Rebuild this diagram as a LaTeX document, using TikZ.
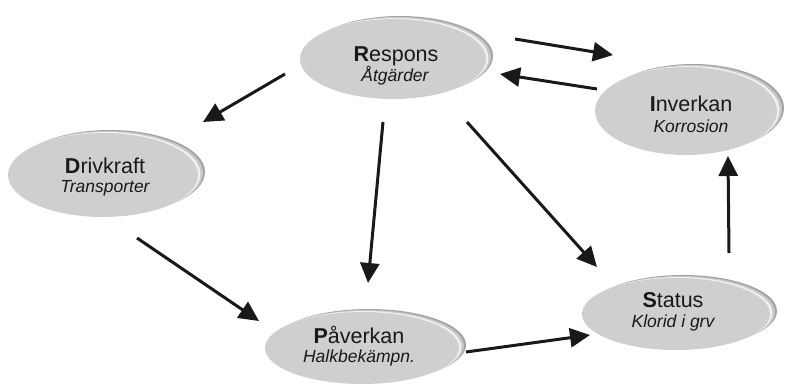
\documentclass[tikz,border=0pt]{standalone}
\usepackage{fontspec}
\setmainfont{Liberation Sans}
\usetikzlibrary{arrows.meta,shapes.geometric}
\begin{document}
\begin{tikzpicture}[x=1pt,y=-1pt,
  front/.style={ellipse,fill=black!19,inner sep=0pt},
  rimA/.style={ellipse,fill=black!36,inner sep=0pt},
  rimB/.style={ellipse,fill=black!22,inner sep=0pt},
  rimC/.style={ellipse,fill=black!6,inner sep=0pt},
  ttl/.style={anchor=base,font=\fontsize{21.5}{21.5}\selectfont,text=black!90},
  sub/.style={anchor=base,font=\fontsize{17.5}{17.5}\selectfont\itshape,text=black!90},
  arr/.style={line width=3pt,draw=black!90,-{Triangle[length=20pt,width=19pt]}}
]
\useasboundingbox (0,0) rectangle (787,385);
\newcommand{\blob}[5]{%
  \node[rimA,minimum width=2*#3 pt,minimum height=2*#4 pt] (#5a) at (#1+7,#2-3) {};
  \node[rimB,minimum width=2*#3 pt,minimum height=2*#4 pt] (#5b) at (#1+5,#2-2) {};
  \node[rimC,minimum width=2*#3 pt,minimum height=2*#4 pt] (#5c) at (#1+2.5,#2-1) {};
  \node[front,minimum width=2*#3 pt,minimum height=2*#4 pt] (#5) at (#1,#2) {};
}
\blob{393}{59}{93}{40}{respE}
\blob{686}{111}{91}{44}{inveE}
\blob{103}{175}{95}{42}{drivE}
\blob{362}{348}{97}{36}{paveE}
\blob{676}{314}{94}{36}{statE}

\node[ttl] (respT) at (396,62) {\textbf{R}espons};
\node[sub] (respS) at (395,82) {Åtgärder};
\node[ttl] (inveT) at (691,112) {\textbf{I}nverkan};
\node[sub] (inveS) at (691,133) {Korrosion};
\node[ttl] (drivT) at (105,173) {\textbf{D}rivkraft};
\node[sub] (drivS) at (105,193) {Transporter};
\node[ttl] (paveT) at (359,343) {\textbf{P}åverkan};
\node[sub] (paveS) at (359,362) {Halkbekämpn.};
\node[ttl] (statT) at (673,307) {\textbf{S}tatus};
\node[sub] (statS) at (673,327) {Klorid i grv};

\coordinate (a1s) at (515,39);  \coordinate (a1e) at (613,55);
\coordinate (a2s) at (597,89);  \coordinate (a2e) at (500,74);
\coordinate (a3s) at (285,74);  \coordinate (a3e) at (203,122);
\coordinate (a4s) at (383,122); \coordinate (a4e) at (368,283);
\coordinate (a5s) at (467,122); \coordinate (a5e) at (597,267);
\coordinate (a6s) at (137,238); \coordinate (a6e) at (259,321);
\coordinate (a7s) at (466,352); \coordinate (a7e) at (590,335);
\coordinate (a8s) at (729,253); \coordinate (a8e) at (728,156);

\draw[arr] (a1s) -- (a1e);
\draw[arr] (a2s) -- (a2e);
\draw[arr] (a3s) -- (a3e);
\draw[arr] (a4s) -- (a4e);
\draw[arr] (a5s) -- (a5e);
\draw[arr] (a6s) -- (a6e);
\draw[arr] (a7s) -- (a7e);
\draw[arr] (a8s) -- (a8e);
\end{tikzpicture}
\end{document}
